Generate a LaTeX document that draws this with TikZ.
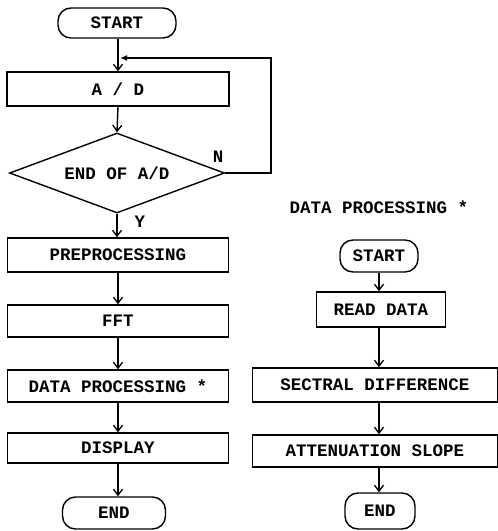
\documentclass[tikz,border=0pt]{standalone}
\usepackage{fontspec}
\setmainfont{Liberation Mono}
\usetikzlibrary{shapes.geometric,arrows.meta}
\begin{document}
\begin{tikzpicture}[x=1pt,y=-1pt,
  every node/.style={font=\fontsize{17.5}{20}\selectfont\bfseries, inner sep=0pt},
  box/.style={draw, line width=1.4pt, rectangle, minimum height=#1},
  term/.style={draw, line width=1.4pt, rectangle, rounded corners=13pt, minimum height=#1},
  dec/.style={draw, line width=1.4pt, diamond, aspect=2.7, minimum width=215pt, minimum height=80pt},
  arr/.style={line width=1.4pt, -{Straight Barb[length=6pt,width=9pt,line width=1.3pt]}},
  fb/.style={line width=1.4pt, -{Latex[length=7pt,width=6pt]}}]
\useasboundingbox (0,0) rectangle (498,531);
% left flow
\node[term=30pt, minimum width=118pt] (s1) at (117,23) {START};
\node[box=34pt, minimum width=222pt] (ad) at (118,89) {A / D};
\node[dec] (end) at (117,173) {END OF A/D};
\node[box=34pt, minimum width=221pt] (pre) at (118,255) {PREPROCESSING};
\node[box=32pt, minimum width=221pt] (fft) at (118,321) {FFT};
\node[box=32pt, minimum width=221pt] (dp) at (118,386) {DATA PROCESSING *};
\node[box=30pt, minimum width=221pt] (disp) at (118,448) {DISPLAY};
\node[term=32pt, minimum width=103pt] (e1) at (114,513) {END};
\coordinate (fbR) at (271,173);
\coordinate (fbT) at (271,58);
\coordinate (fbE) at (120,58);
\node (nlab) at (218,157) {N};
\node (ylab) at (140,222) {Y};
\draw[arr] (s1.south -| 118,0) -- (ad.north);
\draw[arr] (ad.south) -- (end.north);
\draw[arr] (end.south) -- (end.south |- pre.north);
\draw[arr] (pre.south) -- (fft.north);
\draw[arr] (fft.south) -- (dp.north);
\draw[arr] (dp.south) -- (disp.north);
\draw[arr] (disp.south) -- (disp.south |- e1.north);
\draw[fb] (end.east) -- (fbR) -- (fbT) -- (fbE);
% right flow
\node (title) at (379,207) {DATA PROCESSING *};
\node[term=32pt, minimum width=78pt] (s2) at (379,256) {START};
\node[box=35pt, minimum width=129pt] (rd) at (381,309.5) {READ DATA};
\node[box=34pt, minimum width=245pt] (sec) at (375,385) {SECTRAL DIFFERENCE};
\node[box=32pt, minimum width=245pt] (att) at (375,451) {ATTENUATION SLOPE};
\node[term=36pt, minimum width=70pt] (e2) at (380,511) {END};
\draw[arr] (s2.south) -- (s2.south |- rd.north);
\draw[arr] (s2.south |- rd.south) -- (s2.south |- sec.north);
\draw[arr] (s2.south |- sec.south) -- (s2.south |- att.north);
\draw[arr] (s2.south |- att.south) -- (s2.south |- e2.north);
\end{tikzpicture}
\end{document}
